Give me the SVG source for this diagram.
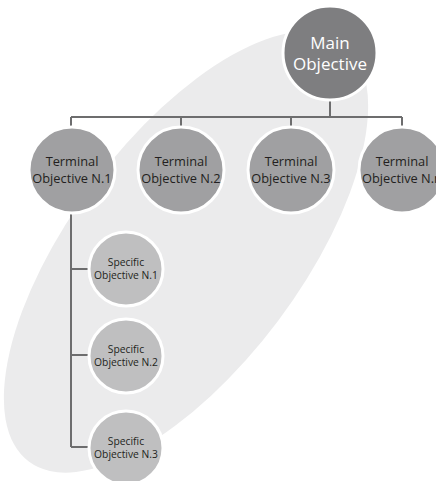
<svg xmlns="http://www.w3.org/2000/svg" width="436" height="481" viewBox="0 0 436 481">
<style>
.bg{fill:#ebebec}
.c{stroke:#ffffff;stroke-width:3}
.main{fill:#7e7e80}
.term{fill:#a0a0a2}
.spec{fill:#bfbfc0}
.t{font-family:"Open Sans","Liberation Sans",sans-serif;text-anchor:middle;fill:#231f20}
.tm{font-size:17px;fill:#ffffff}
.tt{font-size:12.8px}
.ts{font-size:10.3px}
.ln{fill:none;stroke:#6d6d6e;stroke-width:2}
</style>
<rect width="436" height="481" fill="#ffffff"/>
<ellipse class="bg" cx="186" cy="252" rx="262" ry="115" transform="rotate(-53.13 186 252)"/>
<g id="connectors">
<path class="ln" d="M330 99V117M71 117H402M71 117V128M181 117V128M291 117V128M402 117V128"/>
<path class="ln" d="M71 212V447M71 269H89M71 355H89M71 447H89"/>
</g>
<g id="main">
<circle class="c main" cx="330" cy="53" r="47"/>
<text class="t tm" x="330" y="48.5">Main</text>
<text class="t tm" x="330" y="69.5">Objective</text>
</g>
<g id="terminal1">
<circle class="c term" cx="72" cy="170" r="43"/>
<text class="t tt" x="72" y="165.5">Terminal</text>
<text class="t tt" x="72" y="182.5">Objective N.1</text>
</g>
<g id="terminal2">
<circle class="c term" cx="181" cy="170" r="43"/>
<text class="t tt" x="181" y="165.5">Terminal</text>
<text class="t tt" x="181" y="182.5">Objective N.2</text>
</g>
<g id="terminal3">
<circle class="c term" cx="291" cy="170" r="43"/>
<text class="t tt" x="291" y="165.5">Terminal</text>
<text class="t tt" x="291" y="182.5">Objective N.3</text>
</g>
<g id="terminaln">
<circle class="c term" cx="402" cy="170" r="43"/>
<text class="t tt" x="402" y="165.5">Terminal</text>
<text class="t tt" x="402" y="182.5">Objective N.n</text>
</g>
<g id="specific1">
<circle class="c spec" cx="126" cy="269" r="37"/>
<text class="t ts" x="126" y="265.5">Specific</text>
<text class="t ts" x="126" y="279">Objective N.1</text>
</g>
<g id="specific2">
<circle class="c spec" cx="126" cy="356" r="37"/>
<text class="t ts" x="126" y="352.5">Specific</text>
<text class="t ts" x="126" y="366">Objective N.2</text>
</g>
<g id="specific3">
<circle class="c spec" cx="126" cy="448" r="37"/>
<text class="t ts" x="126" y="444.5">Specific</text>
<text class="t ts" x="126" y="458">Objective N.3</text>
</g>
</svg>
